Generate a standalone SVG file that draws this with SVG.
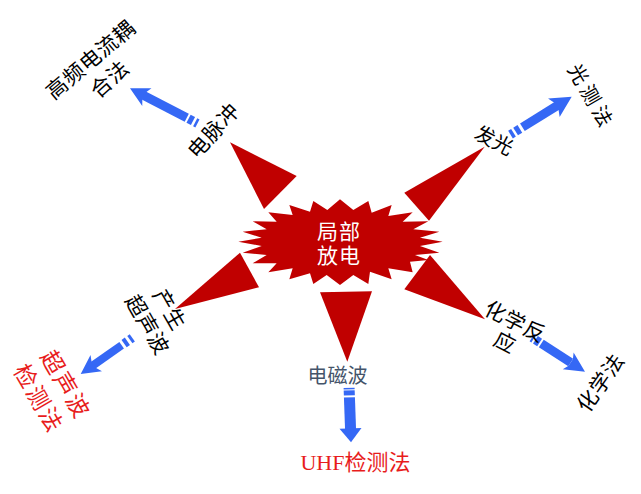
<svg xmlns="http://www.w3.org/2000/svg" width="641" height="494" viewBox="0 0 641 494">
<style>
text{font-family:"Liberation Serif","Noto Sans CJK SC",serif;font-size:20px;fill:#000;text-anchor:middle;dominant-baseline:central}
.red{fill:#e81c1c;font-size:23px;letter-spacing:2px}
.uhf{fill:#e81c1c;font-size:22px}
.wht{fill:#fff;font-size:21px;letter-spacing:1px}
.gry{fill:#44546a}
.tri{fill:#c00000}
.blu{fill:#3568f5}
.ls{font-size:21px;letter-spacing:.8px}
</style>
<rect width="641" height="494" fill="#fff"/>
<g id="connectors">
<g class="blu" transform="translate(130 88.3) rotate(207.5)"><polygon points="0,0 -19,-10 -16,-4 -16,4 -19,10"/><rect x="-64" y="-4.5" width="49" height="9"/><rect x="-71" y="-4.5" width="5" height="9"/><rect x="-76" y="-4.5" width="2.5" height="9"/></g>
<g class="blu" transform="translate(571.7 96.7) rotate(-31.8)"><polygon points="0,0 -21,-11 -18,-4 -18,4 -21,11"/><rect x="-58" y="-4.5" width="41" height="9"/><rect x="-66" y="-4.5" width="5" height="9"/><rect x="-72" y="-4.5" width="3.5" height="9"/></g>
<g class="blu" transform="translate(80.7 374) rotate(145)"><polygon points="0,0 -19,-10 -16,-4 -16,4 -19,10"/><rect x="-50" y="-4" width="35" height="8"/><rect x="-57" y="-4.5" width="4" height="9"/><rect x="-63" y="-4.5" width="3" height="9"/></g>
<g class="blu" transform="translate(351 442.3) rotate(88)"><polygon points="0,0 -14,-11 -14,11"/><rect x="-45" y="-5.5" width="32" height="11"/><rect x="-52" y="-5.5" width="5" height="11"/><rect x="-54.5" y="-5.5" width="1.5" height="11"/></g>
<g class="blu" transform="translate(585 371.7) rotate(32.8)"><polygon points="0,0 -20,-10 -17,-4 -17,4 -20,10"/><rect x="-52" y="-4.5" width="35" height="9"/><rect x="-59" y="-4.5" width="5" height="9"/><rect x="-63" y="-4.5" width="2" height="9"/></g>
</g>
<g id="center">
<polygon class="tri" transform="translate(230 190) scale(.33333)" points="25,155 95,143 38,125 110,118 68,94 140,95 115,67 188,75 178,45 240,65 250,33 292,60 330,28 370,60 415,33 425,68 485,45 475,78 548,67 518,95 595,94 550,118 628,125 570,143 638,155 570,168 628,188 555,195 595,210 540,215 548,247 475,235 485,268 420,245 415,282 370,255 330,285 290,255 250,282 240,250 178,268 188,235 115,247 140,220 68,220 110,195 38,188 95,168"/>
<text class="wht" x="339" y="232">局部</text>
<text class="wht" x="339" y="256">放电</text>
</g>
<g id="pulse">
<polygon class="tri" points="230,142.3 296.7,176 264,209"/>
<text class="ls" transform="translate(214 131) rotate(-48)">电脉冲</text>
<text class="ls" transform="translate(91 60) rotate(-40)">高频电流耦</text>
<text class="ls" transform="translate(110 79.5) rotate(-42)">合法</text>
</g>
<g id="light">
<polygon class="tri" points="484.7,146.7 404.3,192.7 429,220.7"/>
<text transform="translate(494 140.5) rotate(27)">发光</text>
<text style="letter-spacing:4px" transform="translate(591 97) rotate(60)">光测法</text>
</g>
<g id="ultrasound">
<polygon class="tri" points="175,309 240,252.7 259,287.3"/>
<text class="ls" transform="translate(169 310) rotate(60)">产生</text>
<text class="ls" transform="translate(147 325) rotate(60)">超声波</text>
<text class="red" transform="translate(65 385) rotate(60)">超声波</text>
<text class="red" transform="translate(38 399) rotate(60)">检测法</text>
</g>
<g id="em">
<polygon class="tri" points="347.3,361.7 320,292.3 372,291.3"/>
<text class="gry" x="337.5" y="376">电磁波</text>
<text class="uhf" x="355.5" y="462">UHF检测法</text>
</g>
<g id="chem">
<polygon class="tri" points="485,319.3 430,255 404.3,289.3"/>
<text class="ls" transform="translate(515 322) rotate(27)">化学反</text>
<text class="ls" transform="translate(505 343) rotate(27)">应</text>
<text class="ls" transform="translate(601 383) rotate(-55)">化学法</text>
</g>
</svg>
